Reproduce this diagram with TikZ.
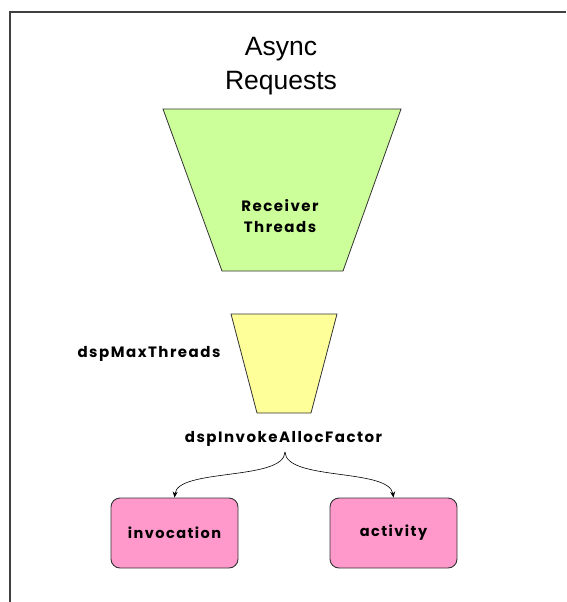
\documentclass[tikz,border=0pt]{standalone}
\usepackage{fontspec}
\setmainfont{Liberation Sans}
\newfontfamily\lblfont{Poppins}[LetterSpace=10]
\usetikzlibrary{arrows.meta}
\definecolor{recvgreen}{HTML}{CCFF99}
\definecolor{maxyellow}{HTML}{FFFF99}
\definecolor{poolpink}{HTML}{FF99CC}
\definecolor{framegray}{HTML}{404040}
\begin{document}
\begin{tikzpicture}[x=1pt,y=-1pt,
  funnel/.style={draw=black!80,line width=0.8pt},
  lbl/.style={font=\lblfont\bfseries\fontsize{15}{20}\selectfont,inner sep=0pt},
  poolbox/.style={draw=black!80,line width=0.9pt,fill=poolpink,rounded corners=9pt,
    minimum width=127pt,minimum height=70pt,inner sep=0pt,
    font=\lblfont\bfseries\fontsize{14.5}{18}\selectfont},
  split/.style={-{Stealth[length=6pt,width=5pt]},line width=0.6pt}]
\useasboundingbox (0,0) rectangle (566,602);
% frame (top and left edges)
\draw[framegray,line width=1.5pt] (566,12) -- (10,12) -- (10,602);
% title
\node[font=\fontsize{26.5}{33}\selectfont,anchor=base,inner sep=0pt] (title) at (281,56) {Async};
\node[font=\fontsize{26.5}{33}\selectfont,anchor=base,inner sep=0pt] (title2) at (281,89) {Requests};
% receiver funnel
\draw[funnel,fill=recvgreen] (163,109) -- (401,109) -- (343,271) -- (222,271) -- cycle;
\node[lbl,anchor=base] (recv) at (280,211) {Receiver};
\node[lbl,anchor=base] (recv2) at (280,232) {Threads};
% max-threads funnel
\draw[funnel,fill=maxyellow] (231,314) -- (337,314) -- (311,413) -- (257,413) -- cycle;
\node[lbl,anchor=base] (maxthr) at (149,357) {dspMaxThreads};
\node[lbl,anchor=base] (factor) at (283.5,442) {dspInvokeAllocFactor};
\coordinate (fork) at (285,452);
% pools
\node[poolbox] (inv) at (174.5,533) {invocation};
\node[poolbox] (act) at (393.5,533) {activity};
\draw[split] (fork) .. controls (284,481) and (178,468) .. (inv.north);
\draw[split] (fork) .. controls (286,481) and (389,468) .. (act.north);
\end{tikzpicture}
\end{document}
